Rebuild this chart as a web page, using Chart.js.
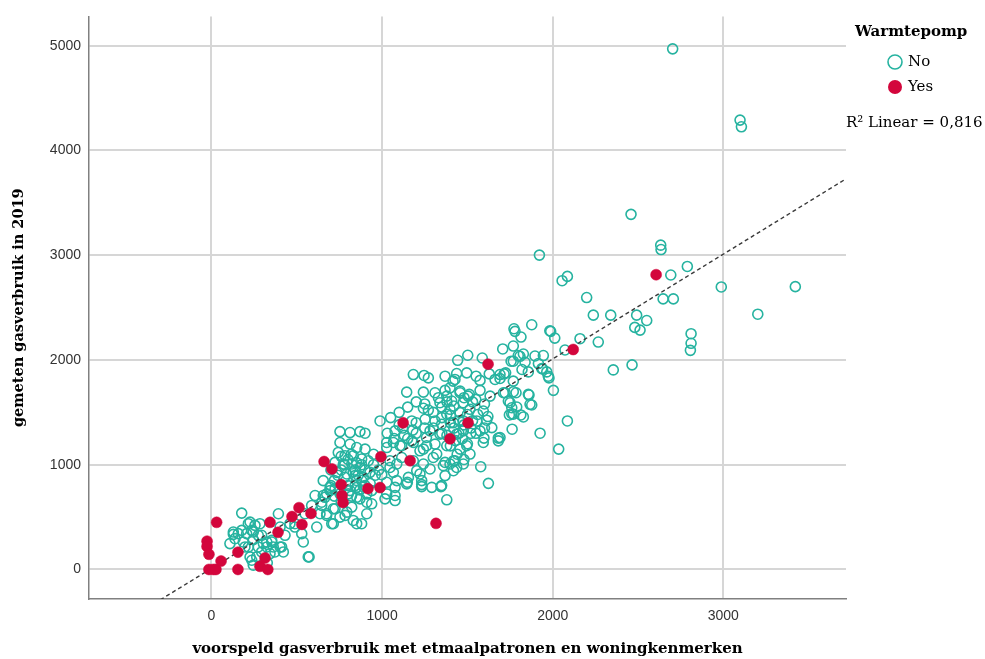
<!DOCTYPE html>
<html>
<head>
<meta charset="utf-8">
<script src="https://cdn.jsdelivr.net/npm/chart.js@4.4.0/dist/chart.umd.min.js"></script>
<style>
  html, body { margin: 0; padding: 0; background: #fff; }
</style>
</head>
<body>
<canvas id="chart" width="985" height="659"></canvas>
<script>
// tick labels
const xTicks = [0, 1000, 2000, 3000];
const yTicks = [0, 1000, 2000, 3000, 4000, 5000];

const xTitle = 'voorspeld gasverbruik met etmaalpatronen en woningkenmerken';
const yTitle = 'gemeten gasverbruik in 2019';
const legendTitle = 'Warmtepomp';
const groupLabels = ['No', 'Yes'];
const fitLabel = 'R² Linear = 0,816';

// fit line end points (x, y)
const fitLine = [[-720, -710], [3720, 3730]];

// Warmtepomp = Yes
const yesPoints = [
  [30,450],[-26,270],[-26,220],[-15,145],[-15,0],[10,0],[26,0],[56,80],[155,0],[155,165],
  [284,30],[314,110],[330,0],[343,450],[390,355],[472,505],[513,590],[530,430],[583,535],
  [660,1030],[706,960],[760,810],[765,705],[771,640],[917,772],[988,782],[993,1076],
  [1123,1400],[1164,1038],[1316,440],[1398,1247],[1504,1400],[1621,1960],[2120,2100],[2606,2814]
];

// Warmtepomp = No
const noPoints = [
  [2703,4970],[3098,4290],[3106,4226],[2459,3390],[2633,3096],[2635,3054],[2789,2893],[2692,2811],[1922,3001],
  [2055,2757],[2086,2798],[2199,2596],[2988,2697],[3422,2700],[3202,2437],[2647,2583],[2707,2583],
  [2238,2428],[2340,2428],[2492,2428],[2551,2377],[2481,2311],[2512,2285],[2811,2251],[2811,2159],[2807,2092],
  [1983,2279],[2012,2209],[2267,2171],[2160,2203],[2072,2095],[1945,2042],[1941,1915],[1965,1886],[1978,1829],
  [2355,1905],[2465,1953],[2086,1418],[2035,1149],[1926,1301],
  [1773,2298],[1877,2336],[1814,2219],[1769,2133],[1707,2105],[1828,2057],[1808,2035],[1896,2038],
  [1769,1988],[1838,1978],[1916,1966],[1715,1867],[1691,1823],[1820,1909],[1857,1886],[1936,1918],[1974,1845],
  [1721,1687],[1769,1697],[1861,1665],[1740,1608],[1760,1544],[1769,1482],[1746,1475],[1877,1570],[1813,1475],
  [1762,1339],[1691,1259],
  [1779,2273],[1988,2273],[1502,2045],[1443,1997],[1587,2019],[1756,1988],[1798,2042],
  [1183,1861],[1246,1852],[1271,1829],[1369,1845],[1437,1871],[1496,1877],[1427,1814],[1551,1845],[1574,1805],
  [1628,1867],[1691,1861],[1724,1877],[1662,1814],[1769,1798],[1785,1687],[1711,1687],[1750,1592],[1789,1551],
  [1760,1487],[1828,1456],[1867,1577],[1857,1672],[2004,1710],[1578,981],[1623,822],
  [1144,1693],[1242,1693],[1310,1687],[1369,1710],[1379,1655],[1457,1687],[1511,1672],[1574,1710],[1633,1655],
  [1549,1624],[1476,1592],[1408,1608],[1339,1592],[1242,1539],[1271,1522],[1398,1529],[1457,1497],[1515,1529],
  [1593,1513],[1613,1425],[1643,1354],[1597,1254],[1681,1254],[1379,1482],[1310,1418],[1349,1387],[1418,1402],
  [1476,1418],[1555,1418],[1574,1323],[1476,1323],[1437,1292],[1339,1292],[1281,1323],[1252,1434],[1174,1418],
  [1076,1323],[1027,1212],[1105,1181],[1183,1212],[1242,1149],[1310,1197],[1379,1181],[1457,1149],[1427,1038],
  [1369,1022],[1300,1069],[1242,1007],[1183,1038],[1115,1069],[1046,1038],[1066,927],[1154,879],[1232,810],
  [1349,801],[1369,896],[1437,974],[988,1418],[998,905],
  [1300,1500],[1350,1450],[1400,1400],[1420,1350],[1450,1300],[1380,1280],[1430,1230],[1470,1250],[1500,1200],
  [1400,1180],[1350,1300],[1300,1350],[1260,1260],[1200,1300],[1150,1250],[1120,1350],[1200,1400],[1250,1350],
  [1350,1550],[1400,1470],[1450,1420],[1480,1380],[1520,1350],[1550,1300],[1500,1480],[1420,1560],[1380,1600],
  [1330,1640],[1480,1640],[1530,1600],[1600,1580],[1620,1460],[1560,1480],[1530,1420],[1440,1100],[1480,1050],
  [1520,1300],[1600,1350],[1100,1500],[1050,1450],[1150,1550],[1200,1600],[1250,1580],[1100,1380],[1030,1300],
  [1070,1250],[1130,1280],[1180,1330],
  [1398,1734],[1416,1798],[1457,1703],[1504,1655],
  [753,1316],[812,1307],[870,1316],[900,1301],[753,1212],[812,1197],[851,1164],[900,1149],[743,1117],[783,1086],
  [831,1086],[880,1054],[919,1038],[724,1022],[773,1007],[822,1007],[870,974],[734,927],[793,912],[841,896],
  [890,879],[929,927],[1046,974],[1086,1007],[1027,1164],[1066,1212],[1115,1181],[1174,1228],[1222,1133],
  [1261,1181],[1320,1102],[1359,991],[1418,1038],[1476,1007],[1515,1102],[1418,943],[1232,848],[1291,784],
  [1203,943],[1086,848],[1027,832],[1144,817],[1076,706],[1017,674],[939,753],[890,791],[841,801],[802,722],
  [851,689],[910,642],[822,595],[724,579],[783,516],[851,437],[714,437],[675,516],[646,642],[675,722],[724,769],
  [655,848],[607,706],[587,611],[548,532],[460,437],[402,405],[529,342],[617,405],
  [177,538],[128,357],[108,247],[138,294],[157,342],[177,373],[206,342],[226,452],[255,421],[236,373],[186,262],
  [216,215],[245,285],[284,437],[294,326],[274,215],[294,167],[324,215],[324,262],[353,262],[362,215],[372,167],
  [402,215],[421,167],[431,326],[392,532],[489,437],[538,262],[567,120],[236,88],[265,120],[327,63],[343,152],
  [675,532],[714,579],[753,500],[793,547],[831,468],[880,437],[939,627],[910,532],[705,437],[655,706],[695,784],
  [753,722],[812,753],[870,674],[851,784],[910,722],
  [128,335],[216,437],[245,357],[274,326],[196,215],[226,120],[245,41],[304,247],[353,278],[411,215],[489,405],
  [572,120],[636,532],[665,689],[646,611],[695,753],
  [1379,665],[1345,791],[1232,791],[1148,832],[1076,658],[1076,784],[1027,722],[1222,912],[1281,959],[1398,1007],
  [1496,1181],[1593,1212],[1681,1228],
  [700,800],[720,850],[740,900],[760,950],[780,1000],[800,1050],[820,1100],[840,950],[860,900],[880,850],[900,800],
  [750,750],[800,800],[850,850],[900,950],[950,1000],[780,880],[830,930],[880,1000],[720,700],[760,650],[820,700],
  [870,760],[930,820],[960,900],[980,950],[700,950],[760,1080],[850,1020],[950,1100]
];

const teal = '#26b3a0';
const red = '#d3063c';
const serif = "'DejaVu Serif', serif";
const sans = "'Liberation Sans', Arial, sans-serif";

const toXY = arr => arr.map(p => ({ x: p[0], y: p[1] }));

// legend + R2 text on the right
const legendPlugin = {
  id: 'spssLegend',
  afterDraw(chart) {
    const ctx = chart.ctx;
    ctx.save();
    ctx.textBaseline = 'middle';
    ctx.textAlign = 'left';
    ctx.fillStyle = '#000';
    ctx.font = 'bold 15px ' + serif;
    ctx.fillText(legendTitle, 855, 32);

    ctx.font = '15px ' + serif;
    // No
    ctx.beginPath();
    ctx.arc(895, 62, 7, 0, Math.PI * 2);
    ctx.strokeStyle = teal;
    ctx.lineWidth = 1.6;
    ctx.stroke();
    ctx.fillText(groupLabels[0], 908, 62);
    // Yes
    ctx.beginPath();
    ctx.arc(895, 87, 7, 0, Math.PI * 2);
    ctx.fillStyle = red;
    ctx.fill();
    ctx.fillStyle = '#000';
    ctx.fillText(groupLabels[1], 908, 87);

    ctx.font = '15px ' + serif;
    ctx.fillText(fitLabel, 846, 123);
    ctx.restore();
  }
};

new Chart(document.getElementById('chart'), {
  data: {
    datasets: [
      {
        type: 'scatter',
        label: groupLabels[1],
        data: toXY(yesPoints),
        pointRadius: 5.5,
        pointBackgroundColor: red,
        pointBorderColor: red,
        pointBorderWidth: 0.5,
        order: 1
      },
      {
        type: 'line',
        label: 'fit',
        data: toXY(fitLine),
        borderColor: '#3a3a3a',
        borderWidth: 1.4,
        borderDash: [4, 3],
        pointRadius: 0,
        fill: false,
        order: 2
      },
      {
        type: 'scatter',
        label: groupLabels[0],
        data: toXY(noPoints),
        pointRadius: 5,
        pointBackgroundColor: 'rgba(0,0,0,0)',
        pointBorderColor: teal,
        pointBorderWidth: 1.6,
        order: 3
      }
    ]
  },
  options: {
    responsive: false,
    animation: false,
    layout: { padding: { top: 13, right: 139, left: 0, bottom: 0 } },
    plugins: { legend: { display: false }, tooltip: { enabled: false } },
    scales: {
      x: {
        type: 'linear',
        min: -718,
        max: 3719,
        afterBuildTicks: s => { s.ticks = xTicks.map(v => ({ value: v })); },
        afterFit: s => { s.height = 60; },
        grid: { color: '#d6d6d6', lineWidth: 2, drawTicks: false },
        border: { color: '#808080', width: 1.5 },
        ticks: { font: { family: sans, size: 14 }, color: '#333', padding: 9, callback: v => String(v) },
        title: {
          display: true, text: xTitle, color: '#000',
          font: { family: serif, size: 15, weight: 'bold' },
          padding: { top: 0, bottom: 1 }
        }
      },
      y: {
        type: 'linear',
        min: -282,
        max: 5280,
        afterBuildTicks: s => { s.ticks = yTicks.map(v => ({ value: v })); },
        afterFit: s => { s.width = 89; },
        grid: { color: '#d6d6d6', lineWidth: 2, drawTicks: false },
        border: { color: '#808080', width: 1.5 },
        ticks: { font: { family: sans, size: 14 }, color: '#333', padding: 8, callback: v => String(v) },
        title: {
          display: true, text: yTitle, color: '#000',
          font: { family: serif, size: 14.5, weight: 'bold' },
          padding: { top: 11, bottom: 0 }
        }
      }
    }
  },
  plugins: [legendPlugin]
});
</script>
</body>
</html>
